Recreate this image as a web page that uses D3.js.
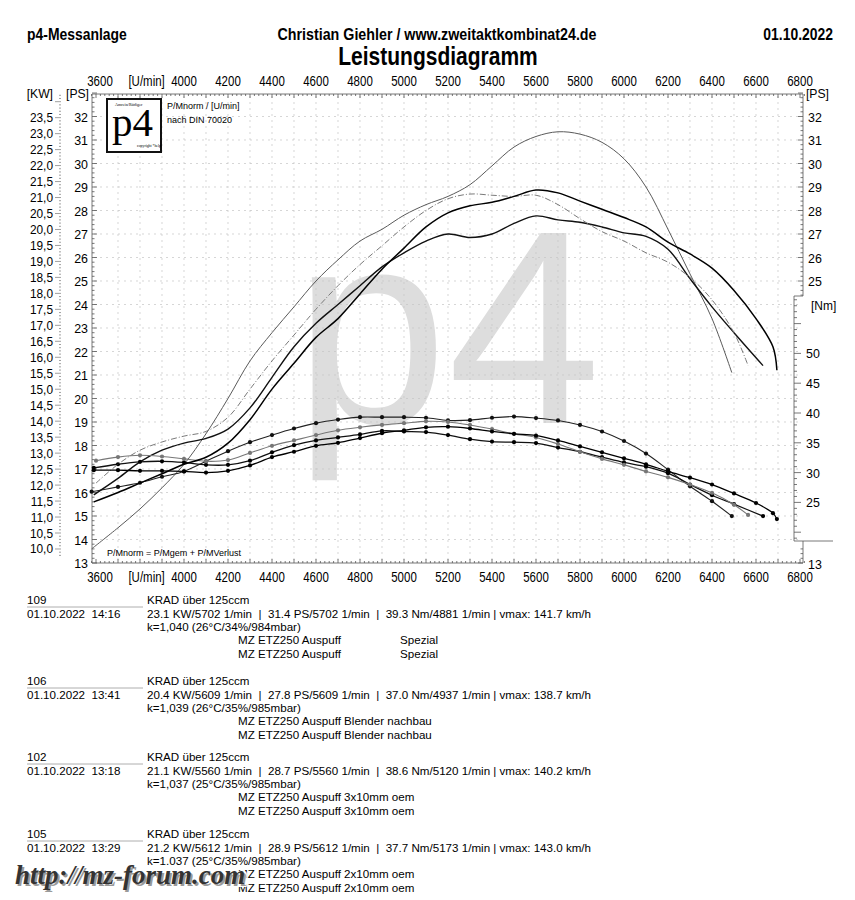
<!DOCTYPE html>
<html><head><meta charset="utf-8">
<script src="https://cdn.jsdelivr.net/npm/d3@7"></script>
<style>body{margin:0;background:#fff}svg{display:block}text{white-space:pre}</style>
</head><body><svg id="c" width="855" height="900"></svg>
<script>
// ---------- DATA ----------
const rpmTicks = [3600,4000,4200,4400,4600,4800,5000,5200,5400,5600,5800,6000,6200,6400,6600,6800];
const psTicks = [13,14,15,16,17,18,19,20,21,22,23,24,25,26,27,28,29,30,31,32];
const psTicksRight = [25,26,27,28,29,30,31,32];
const kwTicks = [10.0,10.5,11.0,11.5,12.0,12.5,13.0,13.5,14.0,14.5,15.0,15.5,16.0,16.5,17.0,17.5,18.0,18.5,19.0,19.5,20.0,20.5,21.0,21.5,22.0,22.5,23.0,23.5];
const nmTicks = [25,30,35,40,45,50];

// run 109 (thin grey power, black torque)
const rpm109 = [3580,3700,3800,3900,4000,4100,4200,4300,4400,4500,4600,4700,4800,4900,5000,5100,5200,5300,5400,5500,5600,5700,5800,5900,6000,6100,6200,6300,6400,6490];
const ps109  = [13.6,14.5,15.3,16.2,17.2,18.5,20.0,21.6,22.8,23.9,25.0,25.9,26.7,27.2,27.8,28.25,28.6,29.1,29.9,30.7,31.15,31.35,31.25,30.9,30.2,29.0,27.2,25.3,23.4,21.1];
const nm109  = [26.8,27.6,28.3,29.3,30.2,31.9,33.6,35.1,36.3,37.4,38.3,38.9,39.3,39.3,39.3,39.2,38.75,38.8,39.2,39.4,39.15,38.75,38.0,36.9,35.3,33.2,30.5,27.7,25.2,22.7];
// run 106 (black)
const rpm106 = [3590,3700,3800,3900,4000,4100,4200,4300,4400,4500,4600,4700,4800,4900,5000,5100,5200,5300,5400,5500,5600,5700,5800,5900,6000,6100,6200,6300,6400,6500,6632];
const ps106  = [15.9,16.6,17.3,17.8,18.1,18.3,18.7,19.6,20.9,22.2,23.2,24.0,24.8,25.6,26.2,26.7,27.0,26.85,27.0,27.45,27.77,27.6,27.5,27.3,27.05,26.9,26.35,25.1,23.9,22.8,21.4];
const nm106  = [30.8,31.4,31.8,31.9,31.7,31.3,31.3,32.0,33.4,34.6,35.4,35.9,36.4,37.0,36.9,36.8,36.3,35.6,35.2,35.1,34.95,34.2,33.5,32.6,31.7,31.0,29.9,28.0,26.2,24.7,22.7];
// run 102 (grey dashed power, grey torque)
const rpm102 = [3600,3700,3800,3900,4000,4100,4200,4300,4400,4500,4600,4700,4800,4900,5000,5100,5200,5300,5400,5500,5600,5700,5800,5900,6000,6100,6200,6300,6400,6500,6564];
const ps102  = [16.4,17.2,17.8,18.15,18.4,18.6,19.2,20.4,21.6,22.7,23.8,24.8,25.7,26.5,27.3,28.0,28.5,28.7,28.65,28.6,28.65,28.25,27.65,27.1,26.7,26.2,25.8,25.15,24.2,22.8,21.4];
const nm102  = [32.0,32.6,32.9,32.7,32.3,31.9,32.1,33.3,34.5,35.4,36.3,37.1,37.6,38.0,38.3,38.6,38.5,38.0,37.3,36.5,35.9,34.8,33.5,32.3,31.3,30.2,29.2,28.0,26.6,24.6,22.9];
// run 105 (black)
const rpm105 = [3590,3700,3800,3900,4000,4100,4200,4300,4400,4500,4600,4700,4800,4900,5000,5100,5200,5300,5400,5500,5600,5700,5800,5900,6000,6100,6200,6300,6400,6500,6600,6677,6695];
const ps105  = [15.6,16.0,16.4,16.8,17.2,17.5,18.1,19.1,20.4,21.5,22.6,23.4,24.45,25.5,26.4,27.3,27.9,28.2,28.35,28.6,28.87,28.75,28.4,28.05,27.7,27.3,26.65,26.15,25.55,24.6,23.4,22.2,21.2];
const nm105  = [30.4,30.4,30.3,30.3,30.2,30.0,30.3,31.2,32.6,33.5,34.5,35.0,35.8,36.6,37.1,37.6,37.7,37.4,36.9,36.5,36.2,35.4,34.4,33.4,32.4,31.4,30.2,29.15,28.0,26.5,24.9,23.2,22.2];

const runIds   = ["109","106","102","105"];
const runTimes = ["01.10.2022  14:16","01.10.2022  13:41","01.10.2022  13:18","01.10.2022  13:29"];
const runStats = [
 "23.1 KW/5702 1/min  |  31.4 PS/5702 1/min  |  39.3 Nm/4881 1/min | vmax: 141.7 km/h",
 "20.4 KW/5609 1/min  |  27.8 PS/5609 1/min  |  37.0 Nm/4937 1/min | vmax: 138.7 km/h",
 "21.1 KW/5560 1/min  |  28.7 PS/5560 1/min  |  38.6 Nm/5120 1/min | vmax: 140.2 km/h",
 "21.2 KW/5612 1/min  |  28.9 PS/5612 1/min  |  37.7 Nm/5173 1/min | vmax: 143.0 km/h"];
const runK = ["k=1,040 (26°C/34%/984mbar)","k=1,039 (26°C/35%/985mbar)","k=1,037 (25°C/35%/985mbar)","k=1.037 (25°C/35%/985mbar)"];
const runSetupA = ["MZ ETZ250 Auspuff","MZ ETZ250 Auspuff Blender nachbau","MZ ETZ250 Auspuff 3x10mm oem","MZ ETZ250 Auspuff 2x10mm oem"];
const runSetupB = ["Spezial","","",""];

// ---------- DRAW ----------
const svg = d3.select("#c");
const SANS = "'Liberation Sans',Arial,sans-serif";
const SERIF = "'Liberation Serif','Times New Roman',serif";

const x = d3.scaleLinear().domain([3600,6800]).range([96,800]);
const yPS = d3.scaleLinear().domain([13,33]).range([563,93]);
const yNm = d3.scaleLinear().domain([40,50]).range([413,353.4]);
const yKW = kw => yPS(kw*1.35962);
const L = 92, R = 803, T = 94, B = 563;

function txt(px,py,s,opt={}){
  const sx = opt.sx||1;
  const t = svg.append("text").text(s)
   .attr("font-family",opt.ff||SANS).attr("font-size",opt.fs||12)
   .attr("font-weight",opt.fw||"normal").attr("text-anchor",opt.ta||"start")
   .attr("fill",opt.fill||"#000").attr("font-style",opt.st||"normal");
  if (sx!==1) t.attr("transform",`translate(${px},${py}) scale(${sx},1)`);
  else t.attr("x",px).attr("y",py);
  return t;
}
const N = 0.82; // condensed look (Arial Narrow-like)

// watermark p4
svg.append("text").attr("x",294).attr("y",423).attr("font-family",SANS)
  .attr("font-size",276).attr("fill","#dddddd").text("p4");

// grid
const grid = svg.append("g").attr("stroke","#c4c4c4").attr("stroke-width",0.7).attr("stroke-dasharray","2,4");
d3.range(3700,6800,100).forEach(r=>grid.append("line").attr("x1",x(r)).attr("x2",x(r)).attr("y1",T+2).attr("y2",B-2));
d3.range(14,33,1).forEach(p=>grid.append("line").attr("x1",L+2).attr("x2",R-2).attr("y1",yPS(p)).attr("y2",yPS(p)));

// header
txt(27,40,"p4-Messanlage",{fs:17,fw:"bold",sx:N});
txt(437,40,"Christian Giehler / www.zweitaktkombinat24.de",{fs:17,fw:"bold",ta:"middle",sx:0.84});
txt(833,40,"01.10.2022",{fs:17,fw:"bold",ta:"end",sx:N});
txt(438,65,"Leistungsdiagramm",{fs:25,fw:"bold",ta:"middle",sx:0.84});

// frame rulers
const ax = svg.append("g").attr("stroke","#555").attr("stroke-width",0.8);
ax.append("line").attr("x1",L).attr("x2",R).attr("y1",T).attr("y2",T);
ax.append("line").attr("x1",L).attr("x2",R).attr("y1",B).attr("y2",B);
ax.append("line").attr("x1",L).attr("x2",L).attr("y1",T).attr("y2",B);
d3.range(3580,6821,20).forEach(r=>{
  const len = (r%100===0)?4:2;
  ax.append("line").attr("x1",x(r)).attr("x2",x(r)).attr("y1",T).attr("y2",T+len);
  ax.append("line").attr("x1",x(r)).attr("x2",x(r)).attr("y1",B).attr("y2",B-len);
});
d3.range(13,33.01,0.2).forEach(p=>{
  const major = Math.abs(p-Math.round(p))<1e-6;
  ax.append("line").attr("x1",L).attr("x2",L+(major?5:2.5)).attr("y1",yPS(p)).attr("y2",yPS(p));
  if (p>=24.4 || p<=13.6) ax.append("line").attr("x1",R).attr("x2",R-(major?5:2.5)).attr("y1",yPS(p)).attr("y2",yPS(p));
});
ax.append("line").attr("x1",R).attr("x2",R).attr("y1",T).attr("y2",296);
ax.append("line").attr("x1",R).attr("x2",R).attr("y1",541).attr("y2",B);
// Nm box
ax.append("line").attr("x1",794).attr("x2",R).attr("y1",296).attr("y2",296);
ax.append("line").attr("x1",794).attr("x2",794).attr("y1",296).attr("y2",541);
ax.append("line").attr("x1",794).attr("x2",833).attr("y1",541).attr("y2",541);
d3.range(19,60,1).forEach(n=>{
  const major = n%5===0;
  ax.append("line").attr("x1",794).attr("x2",794+(major?7:3)).attr("y1",yNm(n)).attr("y2",yNm(n));
});
// KW tick column
const kwg = svg.append("g").attr("stroke","#777").attr("stroke-width",0.7);
d3.range(9.8,24.21,0.1).forEach(k=>{
  const major = Math.abs(k*2-Math.round(k*2))<1e-6;
  kwg.append("line").attr("x1",major?55:59).attr("x2",61).attr("y1",yKW(k)).attr("y2",yKW(k));
});

// axis labels
rpmTicks.forEach(r=>{
  const px = r===3600? x(r)+4 : x(r);
  txt(px,86,String(r),{fs:14,ta:"middle",sx:N});
  txt(px,582,String(r),{fs:14,ta:"middle",sx:N});
});
txt(x(3830),86,"[U/min]",{fs:14,ta:"middle",sx:N});
txt(x(3830),582,"[U/min]",{fs:14,ta:"middle",sx:N});
txt(53,98,"[KW]",{fs:13.5,ta:"end",sx:0.9});
txt(89,98,"[PS]",{fs:13.5,ta:"end",sx:0.9});
txt(806,98,"[PS]",{fs:13.5,sx:0.9});
psTicks.forEach(p=>txt(88,yPS(p)+5,String(p),{fs:13.5,ta:"end",sx:0.92}));
psTicksRight.forEach(p=>txt(808,yPS(p)+5,String(p),{fs:13.5,sx:0.92}));
txt(808,yPS(13)+6,"13",{fs:13.5,sx:0.92});
kwTicks.forEach(k=>txt(53,yKW(k)+4.5,k.toFixed(1).replace(".",","),{fs:12.5,ta:"end",sx:0.95}));
nmTicks.forEach(n=>txt(806,yNm(n)+5,String(n),{fs:13.5,sx:0.92}));
txt(811,310,"[Nm]",{fs:13,sx:0.92});

// logo box
svg.append("rect").attr("x",107).attr("y",99).attr("width",54).attr("height",53)
  .attr("fill","#fff").attr("stroke","#111").attr("stroke-width",2);
txt(115,105.5,"Amrein/Rüdiger",{ff:SERIF,fs:4.2});
txt(112,136,"p4",{ff:SERIF,fs:41});
txt(137,147,"copyright *help",{ff:SERIF,fs:3.8});
txt(167,109,"P/Mnorm / [U/min]",{fs:9});
txt(167,123,"nach DIN 70020",{fs:9});
txt(107,556,"P/Mnorm = P/Mgem + P/MVerlust",{fs:9});

// curves
const runs = [
 {rpm:rpm109, ps:ps109, nm:nm109, pc:"#5a5a5a", pw:1, pd:null, tc:"#222", tw:1.1, mc:"#111"},
 {rpm:rpm106, ps:ps106, nm:nm106, pc:"#111", pw:1.4, pd:null, tc:"#111", tw:1.3, mc:"#000"},
 {rpm:rpm102, ps:ps102, nm:nm102, pc:"#7a7a7a", pw:1, pd:"6,2,1,2", tc:"#777", tw:1.1, mc:"#777"},
 {rpm:rpm105, ps:ps105, nm:nm105, pc:"#000", pw:1.5, pd:null, tc:"#000", tw:1.3, mc:"#000"}
];
const lineP = d3.line().x(d=>x(d[0])).y(d=>yPS(d[1])).curve(d3.curveCatmullRom.alpha(0.5));
const lineT = d3.line().x(d=>x(d[0])).y(d=>yNm(d[1])).curve(d3.curveCatmullRom.alpha(0.5));
runs.forEach(r=>{
  const pd = r.rpm.map((v,i)=>[v,r.ps[i]]);
  const td = r.rpm.map((v,i)=>[v,r.nm[i]]);
  svg.append("path").attr("d",lineP(pd)).attr("fill","none").attr("stroke",r.pc)
    .attr("stroke-width",r.pw).attr("stroke-dasharray",r.pd);
  svg.append("path").attr("d",lineT(td)).attr("fill","none").attr("stroke",r.tc).attr("stroke-width",r.tw);
  svg.append("g").selectAll("circle").data(td).join("circle")
    .attr("cx",d=>x(d[0])).attr("cy",d=>yNm(d[1])).attr("r",2.1).attr("fill",r.mc);
});

// bottom text blocks
const blockY = [600,681,757,834];
const off = [0,13.5,27,40,53.5];
blockY.forEach((by,i)=>{
  const b = by+4;
  txt(27,b,runIds[i],{fs:11.6});
  svg.append("line").attr("x1",27).attr("x2",143).attr("y1",by+7).attr("y2",by+7).attr("stroke","#999").attr("stroke-width",0.8);
  txt(147,b,"KRAD über 125ccm",{fs:11.6});
  txt(27,b+off[1],runTimes[i],{fs:11.6});
  txt(147,b+off[1],runStats[i],{fs:11.6});
  txt(147,b+off[2],runK[i],{fs:11.6});
  txt(238,b+off[3],runSetupA[i],{fs:11.6});
  txt(238,b+off[4],runSetupA[i],{fs:11.6});
  if (runSetupB[i]) { txt(400,b+off[3],runSetupB[i],{fs:11.6}); txt(400,b+off[4],runSetupB[i],{fs:11.6}); }
});
// forum watermark
txt(16,885,"http://mz-forum.com",{ff:SERIF,fs:27,fw:"bold",st:"italic",fill:"#fff"}).attr("stroke","#fff").attr("stroke-width",4);
txt(17,886,"http://mz-forum.com",{ff:SERIF,fs:27,fw:"bold",st:"italic",fill:"#9a9a9a"});
txt(15,884,"http://mz-forum.com",{ff:SERIF,fs:27,fw:"bold",st:"italic",fill:"#333"});
</script></body></html>
